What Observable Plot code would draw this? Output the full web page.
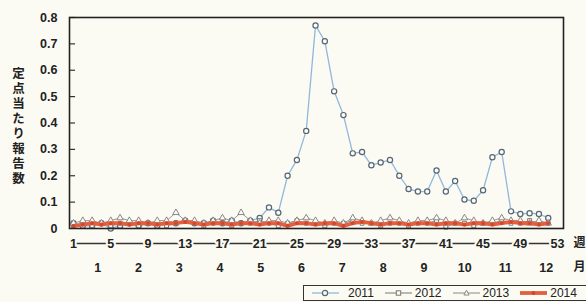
<!DOCTYPE html>
<html><head><meta charset="utf-8">
<script src="https://cdn.jsdelivr.net/npm/d3@7"></script>
<script src="https://cdn.jsdelivr.net/npm/@observablehq/plot@0.6"></script>
<style>
html,body{margin:0;padding:0;background:#fcfbf3;}
#wrap{position:relative;width:586px;height:302px;overflow:hidden;background:#fcfbf3;}
#chart{height:285px;}
#legend{position:absolute;left:303px;top:285px;width:290px;height:16px;border:1px solid #333;box-sizing:border-box;display:flex;align-items:center;font:12px "Liberation Sans",Arial,sans-serif;color:#222;white-space:nowrap;padding-left:8px;}
#legend .it{display:flex;align-items:center;margin-right:11px;}
#legend svg{margin-right:3px;}
#legend .it:first-child svg{margin-right:9px;}
</style></head><body>
<div id="wrap"><div id="chart"></div><div id="legend"></div></div>
<script>
const weeks = d3.range(1, 53);
const s2011 = [0.02,0.01,0.01,0.02,0.00,0.01,0.02,0.01,0.02,0.01,0.02,0.02,0.03,0.02,0.02,0.03,0.02,0.03,0.02,0.03,0.04,0.08,0.06,0.20,0.26,0.37,0.77,0.71,0.52,0.43,0.285,0.29,0.24,0.25,0.26,0.20,0.15,0.14,0.14,0.22,0.14,0.18,0.11,0.105,0.145,0.27,0.29,0.065,0.055,0.058,0.055,0.04];
const s2012 = [0.01,0.02,0.01,0.02,0.01,0.02,0.02,0.01,0.02,0.02,0.01,0.02,0.03,0.02,0.01,0.02,0.02,0.01,0.02,0.02,0.03,0.02,0.01,0.02,0.03,0.02,0.02,0.01,0.02,0.02,0.03,0.02,0.02,0.01,0.02,0.02,0.01,0.02,0.02,0.03,0.005,0.02,0.02,0.01,0.02,0.02,0.03,0.02,0.02,0.03,0.02,0.02];
const s2013 = [0.02,0.03,0.03,0.02,0.03,0.04,0.03,0.03,0.02,0.03,0.03,0.06,0.03,0.03,0.02,0.03,0.04,0.03,0.06,0.03,0.02,0.03,0.03,0.02,0.03,0.04,0.03,0.02,0.03,0.02,0.04,0.03,0.02,0.03,0.04,0.03,0.02,0.03,0.03,0.04,0.03,0.02,0.04,0.03,0.02,0.03,0.04,0.03,0.03,0.02,0.03,0.02];
const s2014 = [0.01,0.015,0.02,0.015,0.02,0.02,0.015,0.02,0.02,0.015,0.02,0.02,0.025,0.02,0.015,0.02,0.02,0.015,0.02,0.02,0.015,0.02,0.02,0.01,0.02,0.02,0.015,0.02,0.02,0.01,0.02,0.025,0.02,0.015,0.02,0.02,0.015,0.02,0.02,0.015,0.02,0.02,0.015,0.02,0.02,0.015,0.02,0.025,0.02,0.02,0.015,0.02];
const weekTicks = [1,5,9,13,17,21,25,29,33,37,41,45,49,53];
const months = d3.range(1, 13);
const yTicks = [0,0.1,0.2,0.3,0.4,0.5,0.6,0.7,0.8];
const yLabel = "定点当たり報告数";
const seriesNames = ["2011","2012","2013","2014"];

const bg = "#fcfbf3";
const rows = (vals, name) => vals.map((v, i) => ({week: weeks[i], value: v, year: name}));
const d2011 = rows(s2011, "2011"), d2012 = rows(s2012, "2012"), d2013 = rows(s2013, "2013"), d2014 = rows(s2014, "2014");
const monthPos = months.map(m => ({m, w: 3.6 + (m - 1) * 4.38}));
const font = "'Liberation Sans', Arial, sans-serif";
const jp = "'Noto Sans CJK JP', sans-serif";

const chart = Plot.plot({
  width: 586, height: 285,
  marginLeft: 69, marginRight: 23, marginTop: 17, marginBottom: 57,
  style: {background: bg, fontFamily: font, fontSize: "12px", fontWeight: "bold", color: "#222"},
  x: {domain: [0.57, 53.64], axis: null},
  y: {domain: [0, 0.8], axis: null},
  marks: [
    Plot.ruleY(yTicks.slice(1), {x1: 0.57, x2: 0.57 + 0.65, stroke: "#333", strokeWidth: 1.2}),
    Plot.text(yTicks, {y: d => d, frameAnchor: "left", dx: -12, textAnchor: "end", lineAnchor: "middle", text: d => d === 0 ? "0" : d.toFixed(1), fill: "#222", fontSize: 12.5, fontWeight: "bold"}),
    Plot.text([yLabel], {frameAnchor: "left", dx: -51, textAnchor: "middle", lineAnchor: "middle", fontSize: 12.5, fontWeight: "bold", fontFamily: jp, fill: "#222"}),
    Plot.ruleY([0], {x1: weekTicks[0], x2: weekTicks[weekTicks.length - 1], dy: 15, stroke: "#333", strokeWidth: 1.4}),
    Plot.text(weekTicks, {x: d => d, frameAnchor: "bottom", lineAnchor: "middle", dy: 15, text: d => String(d), fill: "#222", stroke: bg, strokeWidth: 4, fontSize: 12.5, fontWeight: "bold"}),
    Plot.text(monthPos, {x: "w", frameAnchor: "bottom", lineAnchor: "middle", dy: 39, text: d => String(d.m), fill: "#222", fontSize: 12.5, fontWeight: "bold"}),
    Plot.text(["週"], {frameAnchor: "bottom-right", lineAnchor: "middle", textAnchor: "start", dx: 10, dy: 15, fontFamily: jp, fontSize: 12, fill: "#222"}),
    Plot.text(["月"], {frameAnchor: "bottom-right", lineAnchor: "middle", textAnchor: "start", dx: 10, dy: 39, fontFamily: jp, fontSize: 12, fill: "#222"}),
    Plot.lineY(d2011, {x: "week", y: "value", stroke: "#8fb8dc", strokeWidth: 1.3}),
    Plot.dot(d2011, {x: "week", y: "value", r: 2.6, stroke: "#556677", strokeWidth: 1.2, fill: bg}),
    Plot.lineY(d2012, {x: "week", y: "value", stroke: "#8a8a8a", strokeWidth: 1}),
    Plot.dot(d2012, {x: "week", y: "value", symbol: "square", r: 2.2, stroke: "#777", strokeWidth: 1, fill: bg}),
    Plot.lineY(d2013, {x: "week", y: "value", stroke: "#999", strokeWidth: 1}),
    Plot.dot(d2013, {x: "week", y: "value", symbol: "triangle", r: 2.4, stroke: "#888", strokeWidth: 1, fill: bg}),
    Plot.lineY(d2014, {x: "week", y: "value", stroke: "#e2603f", strokeWidth: 3.8}),
    Plot.dot(d2014, {x: "week", y: "value", r: 1.9, fill: "#d8452e"}),
    Plot.frame({stroke: "#222", strokeWidth: 1.6})
  ]
});
d3.select(chart).selectAll("text")
  .filter(function () { return this.textContent === yLabel; })
  .attr("dy", null)
  .style("writing-mode", "vertical-rl")
  .style("letter-spacing", "2.5px");
document.getElementById("chart").appendChild(chart);

const legendStyles = {
  "2011": {line: "#8fb8dc", w: 1.3, mark: '<circle cx="13" cy="5" r="2.6" fill="'+bg+'" stroke="#556677" stroke-width="1.2"/>'},
  "2012": {line: "#777", w: 1, mark: '<rect x="11.3" y="2.8" width="4.4" height="4.4" fill="'+bg+'" stroke="#777"/>'},
  "2013": {line: "#888", w: 1, mark: '<path d="M13.5 2.2L16.1 7H10.9Z" fill="'+bg+'" stroke="#888"/>'},
  "2014": {line: "#e2603f", w: 3.8, mark: '<circle cx="13.5" cy="5" r="1.9" fill="#d8452e"/>'}
};
const leg = document.getElementById("legend");
seriesNames.forEach(n => {
  const s = legendStyles[n];
  const it = document.createElement("span");
  it.className = "it";
  it.innerHTML = '<svg width="27" height="10"><line x1="0" y1="5" x2="27" y2="5" stroke="'+s.line+'" stroke-width="'+s.w+'"/>'+s.mark+'</svg><span>'+n+'</span>';
  leg.appendChild(it);
});
</script>
</body></html>
